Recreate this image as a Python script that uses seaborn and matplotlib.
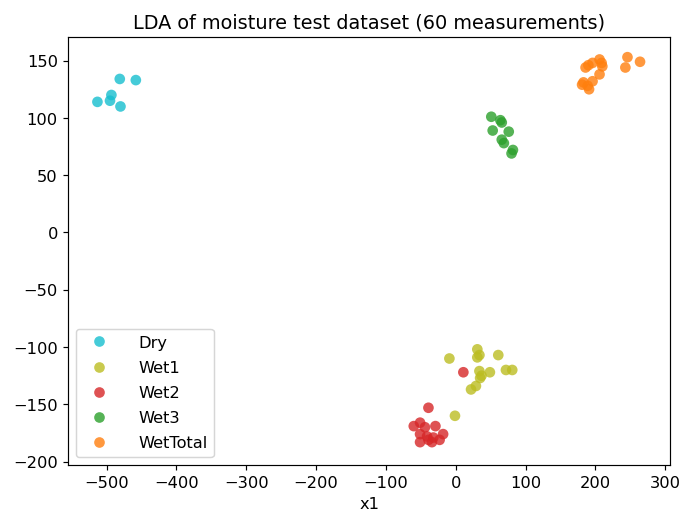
import pandas as pd
import numpy as np
import seaborn as sns
import matplotlib.pyplot as plt

# LDA projection values
dry_x = [-481, -458, -493, -513, -495, -480]
dry_y = [134, 133, 120, 114, 115, 110]

wet1_x = [-9, 31, 34, 31, 61, 34, 49, 72, 81, 37, 35, 29, 22, -1]
wet1_y = [-110, -102, -107, -109, -107, -121, -122, -120, -120, -125, -127, -134, -137, -160]

wet2_x = [11, -39, -51, -60, -44, -29, -51, -41, -32, -18, -51, -34, -23, -39]
wet2_y = [-122, -153, -166, -169, -170, -169, -176, -178, -179, -176, -183, -183, -181, -181]

wet3_x = [51, 64, 66, 53, 76, 66, 69, 82, 80]
wet3_y = [101, 98, 96, 89, 88, 81, 78, 72, 69]

wett_x = [246, 264, 243, 206, 209, 196, 190, 186, 210, 206, 196, 183, 189, 191, 181]
wett_y = [153, 149, 144, 151, 148, 148, 146, 144, 145, 138, 132, 131, 128, 125, 129]

groups = ['Dry', 'Wet1', 'Wet2', 'Wet3', 'WetTotal']
colors = ['#17becf', '#bcbd22', '#d62728', '#2ca02c', '#ff7f0e']

xs = [dry_x, wet1_x, wet2_x, wet3_x, wett_x]
ys = [dry_y, wet1_y, wet2_y, wet3_y, wett_y]
df = pd.concat([pd.DataFrame({'x1': x, 'x2': y, 'label': g})
                for x, y, g in zip(xs, ys, groups)], ignore_index=True)

plt.rcParams['font.size'] = 11

fig, ax = plt.subplots(figsize=(6.4, 4.8), dpi=106.4)
sns.scatterplot(data=df, x='x1', y='x2', hue='label', hue_order=groups,
                palette=dict(zip(groups, colors)), s=52, alpha=0.8,
                linewidth=0, ax=ax)
sns.move_legend(ax, 'lower left', title=None, fontsize=11,
                labelspacing=0.62, handletextpad=1.4)
ax.set_title("LDA of moisture test dataset (60 measurements)", fontsize=13)
ax.set_ylabel('')
ax.set_xlim(-555, 307)
ax.set_ylim(-203, 171)
ax.set_xticks(np.arange(-500, 301, 100))
ax.tick_params(labelsize=11)
fig.subplots_adjust(left=0.1, right=0.984, top=0.927, bottom=0.088)
fig.savefig('out.png')
